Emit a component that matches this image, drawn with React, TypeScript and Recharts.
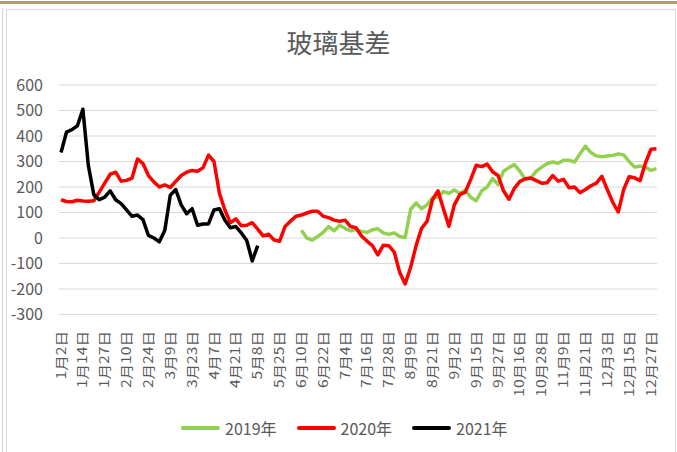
import { LineChart, Line, XAxis, YAxis, CartesianGrid } from "recharts";

const FONT = "'Noto Sans CJK SC', 'Noto Sans', sans-serif";
const TEXT = "#595959";

// one point per two trading days, a label every 4 points
const tickLabels = [
  "1月2日", "1月14日", "1月27日", "2月10日", "2月24日", "3月9日", "3月23日",
  "4月7日", "4月21日", "5月8日", "5月25日", "6月10日", "6月22日", "7月4日",
  "7月16日", "7月28日", "8月9日", "8月21日", "9月2日", "9月15日", "9月27日",
  "10月16日", "10月28日", "11月9日", "11月21日", "12月3日", "12月15日", "12月27日",
];
const yTicks = [-300, -200, -100, 0, 100, 200, 300, 400, 500, 600];

// 2019 starts later in the year
const s2019Start = 44;
const s2019 = [
  30, 0, -8, 6, 22, 45, 28, 50, 38, 28,
  33, 26, 22, 32, 36, 20, 14, 20, 6, 2,
  112, 138, 114, 130, 158, 160, 182, 175, 188, 175,
  188, 160, 146, 185, 200, 233, 210, 262, 276, 288,
  262, 230, 235, 262, 278, 292, 298, 293, 305, 305,
  298, 330, 360, 335, 322, 319, 322, 324, 330, 326,
  300, 278, 282, 277, 265, 272,
];
const s2020 = [
  150, 143, 142, 148, 145, 144, 146, 180, 215, 250,
  258, 223, 226, 235, 310, 292, 245, 220, 200, 208,
  198, 222, 245, 258, 265, 262, 276, 325, 300, 175,
  110, 60, 75, 48, 50, 60, 35, 8, 15, -8,
  -13, 45, 66, 85, 90, 98, 105, 105, 85, 80,
  70, 66, 70, 45, 40, 8, -12, -30, -66, -28,
  -30, -55, -135, -180, -115, -30, 38, 65, 150, 185,
  115, 46, 130, 170, 180, 230, 285, 280, 290, 260,
  245, 185, 152, 195, 222, 232, 235, 225, 215, 217,
  245, 223, 230, 197, 200, 178, 190, 205, 215, 242,
  190, 140, 102, 190, 240, 236, 225, 295, 348, 350,
];
const s2021 = [
  335, 415, 425, 440, 505, 285, 170, 150, 160, 185,
  150, 135, 110, 85, 90, 72, 10, 0, -15, 30,
  168, 190, 130, 95, 115, 50, 55, 55, 110, 115,
  70, 40, 45, 20, -10, -90, -30,
];

const series = [
  { key: "y2019", name: "2019年", color: "#92d050" },
  { key: "y2020", name: "2020年", color: "#ff0000" },
  { key: "y2021", name: "2021年", color: "#000000" },
];

const data = s2020.map((v, i) => ({
  i,
  y2019: i >= s2019Start ? s2019[i - s2019Start] : null,
  y2020: v,
  y2021: i < s2021.length ? s2021[i] : null,
}));

const xTicks = tickLabels.map((_, k) => k * 4);

function DateTick({ x, payload }: any) {
  const label = tickLabels[Math.round(payload.value / 4)];
  return (
    <text
      transform={`translate(${x},331) rotate(-90) scale(1.2,1)`}
      textAnchor="end"
      dy="0.35em"
      fill={TEXT}
      fontSize={13}
      fontFamily={FONT}
    >
      {label}
    </text>
  );
}

export default function App() {
  return (
    <div style={{ position: "absolute", left: 0, top: 0, width: 677, height: 452, background: "#fff", overflow: "hidden", fontFamily: FONT }}>
      <div style={{ position: "absolute", left: 0, top: 1, width: 677, height: 3, background: "#b39b6d" }} />
      <div style={{ position: "absolute", left: 2, top: 8, width: 1, height: 444, background: "#d4d4d4" }} />
      <div style={{ position: "absolute", left: 6, top: 9, width: 668, height: 450, border: "1px solid #d9d9d9" }} />
      <div style={{ position: "absolute", left: 0, top: 24, width: 677, textAlign: "center", fontSize: 26, color: TEXT, lineHeight: "36px" }}>
        玻璃基差
      </div>

      <div style={{ position: "absolute", left: 0, top: 0 }}>
        <LineChart width={677} height={452} data={data} margin={{ top: 85, right: 20, left: 9, bottom: 47.5 }}>
          <CartesianGrid vertical={false} stroke="#d9d9d9" strokeWidth={1.2} />
          <XAxis
            dataKey="i"
            type="number"
            domain={[-0.37, 109.1]}
            ticks={xTicks}
            interval={0}
            height={90}
            axisLine={false}
            tickLine={false}
            tick={<DateTick />}
          />
          <YAxis
            domain={[-300, 600]}
            ticks={yTicks}
            interval={0}
            width={50}
            axisLine={false}
            tickLine={false}
            tickSize={0}
            tickMargin={16}
            tick={{ fill: TEXT, fontSize: 16, fontFamily: FONT }}
          />
          {series.map((s) => (
            <Line
              key={s.key}
              type="linear"
              dataKey={s.key}
              name={s.name}
              stroke={s.color}
              strokeWidth={3.5}
              strokeLinejoin="round"
              dot={false}
              activeDot={false}
              connectNulls={false}
              isAnimationActive={false}
            />
          ))}
        </LineChart>
      </div>

      <div style={{ position: "absolute", left: 181, top: 416, display: "flex", alignItems: "center", height: 24 }}>
        {series.map((s) => (
          <div key={s.key} style={{ display: "flex", alignItems: "center", marginRight: 20 }}>
            <div style={{ width: 39, height: 4, borderRadius: 2, background: s.color, marginRight: 5 }} />
            <span style={{ fontSize: 16, color: TEXT, lineHeight: "24px" }}>{s.name}</span>
          </div>
        ))}
      </div>
    </div>
  );
}
